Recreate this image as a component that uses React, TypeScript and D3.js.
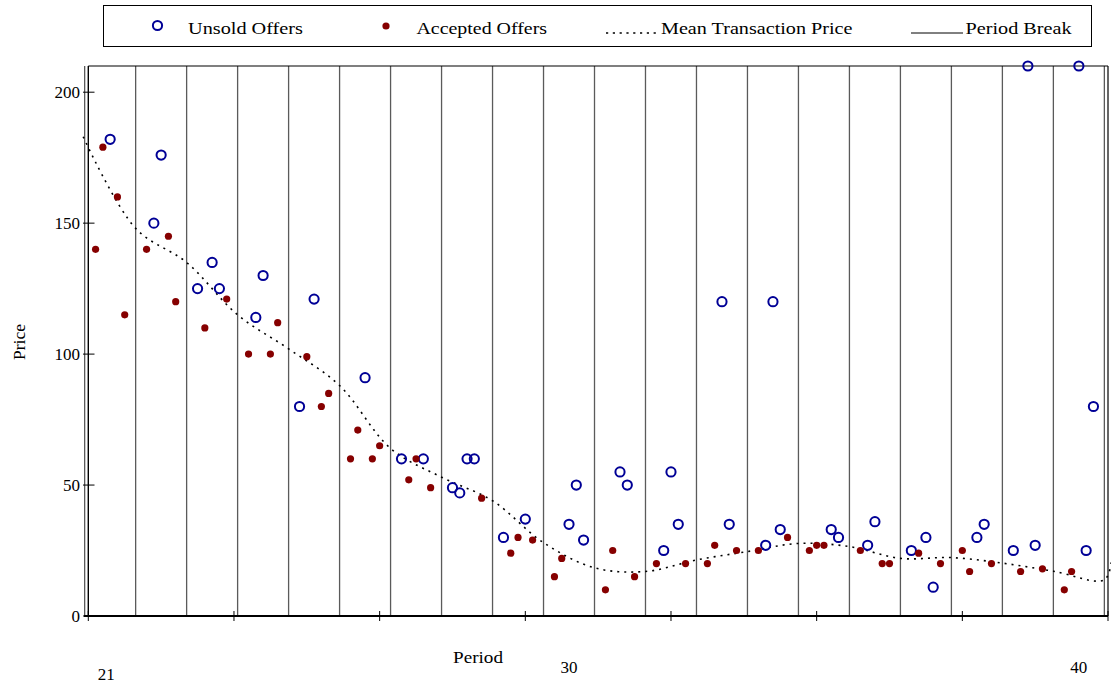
import React from 'react';
import * as d3 from 'd3';

// ---------- DATA ----------
// x = offer slot (7 slots per period, period 21 = slots 1..7, ..., period 40 = slots 134..140)
const unsoldSlot = [4, 10, 11, 16, 18, 19, 24, 25, 30, 32, 39, 44, 47, 51, 52, 53, 54, 58, 61, 67, 68, 69, 74, 75, 80, 81, 82, 88, 89, 94, 95, 96, 103, 104, 108, 109, 114, 116, 117, 123, 124, 128, 130, 131, 137, 138, 139];
const unsoldPrice = [182, 150, 176, 125, 135, 125, 114, 130, 80, 121, 91, 60, 60, 49, 47, 60, 60, 30, 37, 35, 50, 29, 55, 50, 25, 55, 35, 120, 35, 27, 120, 33, 33, 30, 27, 36, 25, 30, 11, 30, 35, 25, 210, 27, 210, 25, 80];

const acceptedSlot = [2, 3, 5, 6, 9, 12, 13, 17, 20, 23, 26, 27, 31, 33, 34, 37, 38, 40, 41, 45, 46, 48, 55, 59, 60, 62, 65, 66, 72, 73, 76, 79, 83, 86, 87, 90, 93, 97, 100, 101, 102, 107, 110, 111, 115, 118, 121, 122, 125, 129, 132, 135, 136];
const acceptedPrice = [140, 179, 160, 115, 140, 145, 120, 110, 121, 100, 100, 112, 99, 80, 85, 60, 71, 60, 65, 52, 60, 49, 45, 24, 30, 29, 15, 22, 10, 25, 15, 20, 20, 20, 27, 25, 25, 30, 25, 27, 27, 25, 20, 20, 24, 20, 25, 17, 20, 17, 18, 10, 17];

const meanSlot = [0.3, 7.5, 14.5, 21.5, 28.5, 35.5, 42.5, 49.5, 56.5, 63.5, 70.5, 77.5, 84.5, 91.5, 98.5, 105.5, 112.5, 119.5, 126.5, 133.5, 140.5, 141.5];
const meanPrice = [183, 148, 135, 115, 102, 88, 64, 53, 44, 28, 18.4, 17, 21.4, 24.6, 27.7, 26.5, 22, 22.3, 20.2, 17.1, 13.8, 21.5];

const firstPeriod = 21;
const lastPeriod = 40;
const slotsPerPeriod = 7;
const yTicks = [0, 50, 100, 150, 200];
const xTickLabels = ['21', '30', '40'];
const legendLabels = ['Unsold Offers', 'Accepted Offers', 'Mean Transaction Price', 'Period Break'];
const yTitle = 'Price';
const xTitle = 'Period';

// ---------- LAYOUT ----------
const W = 1111;
const H = 688;
const left = 88.3;
const right = 1108;
const top = 66;
const bottom = 616;
const FONT = '"Liberation Serif", "Times New Roman", serif';
const BLUE = '#000096';
const RED = '#860000';
const labelNudge: Record<string, [number, number]> = { '21': [-4, 7], '30': [0, 0], '40': [0, 0] };

export default function App() {
  const x = d3.scaleLinear().domain([1, 141]).range([left, right]);
  const y = d3.scaleLinear().domain([0, 210]).range([bottom, top]);

  const nPeriods = lastPeriod - firstPeriod + 1;
  const breaks = d3.range(0, nPeriods + 1).map((k) => k * slotsPerPeriod + 0.5);
  const xTicks = d3.range(1, 142, 20);
  const periodCenter = (p: number) => (p - firstPeriod) * slotsPerPeriod + 4;

  const meanData = meanSlot.map((s, i) => [s, meanPrice[i]] as [number, number]);
  const meanLine = d3
    .line<[number, number]>()
    .x((d) => x(d[0]))
    .y((d) => y(d[1]))
    .curve(d3.curveCatmullRom.alpha(0.5))(meanData) as string;

  const legendY = 26;
  const legendBase = 33.5;

  return (
    <svg
      width={W}
      height={H}
      style={{ position: 'absolute', left: 0, top: 0, display: 'block', background: '#fff' }}
      fontFamily={FONT}
    >
      <rect x={0} y={0} width={W} height={H} fill="#fff" />

      {/* legend */}
      <rect x={103.5} y={5.5} width={988} height={41} fill="#fff" stroke="#000" strokeWidth={1} />
      <circle cx={157.5} cy={legendY - 0.5} r={4.6} fill="none" stroke={BLUE} strokeWidth={2} />
      <text x={188} y={legendBase} fontSize={16} textLength={115} lengthAdjust="spacingAndGlyphs">{legendLabels[0]}</text>
      <circle cx={386} cy={legendY} r={3.6} fill={RED} />
      <text x={416.5} y={legendBase} fontSize={16} textLength={130.5} lengthAdjust="spacingAndGlyphs">{legendLabels[1]}</text>
      <line x1={606} x2={659} y1={33} y2={33} stroke="#000" strokeWidth={1.6} strokeDasharray="2.2,4.6" />
      <text x={661} y={legendBase} fontSize={16} textLength={191.5} lengthAdjust="spacingAndGlyphs">{legendLabels[2]}</text>
      <line x1={911} x2={963} y1={33} y2={33} stroke="#000" strokeWidth={1} />
      <text x={965.5} y={legendBase} fontSize={16} textLength={106} lengthAdjust="spacingAndGlyphs">{legendLabels[3]}</text>

      {/* period breaks */}
      {breaks.map((b, i) => (
        <line key={'b' + i} x1={x(b)} x2={x(b)} y1={top} y2={bottom} stroke="#5a5a5a" strokeWidth={1.3} />
      ))}

      {/* frame */}
      <line x1={left} x2={right} y1={top} y2={top} stroke="#000" strokeWidth={1.2} />
      <line x1={right} x2={right} y1={top} y2={bottom} stroke="#000" strokeWidth={1.2} />
      <line x1={left} x2={left} y1={top} y2={bottom} stroke="#000" strokeWidth={1.4} />
      <line x1={84} x2={right} y1={bottom} y2={bottom} stroke="#000" strokeWidth={1.8} />

      {/* y ticks */}
      {yTicks.map((t) => (
        <g key={'yt' + t}>
          <line x1={83} x2={94.5} y1={y(t)} y2={y(t)} stroke="#000" strokeWidth={1} />
          <text x={80} y={y(t)} dy="0.36em" textAnchor="end" fontSize={17}>
            {t}
          </text>
        </g>
      ))}

      {/* x ticks */}
      {xTicks.map((t) => (
        <line key={'xt' + t} x1={x(t)} x2={x(t)} y1={bottom - 5} y2={bottom + 5} stroke="#000" strokeWidth={1} />
      ))}
      {xTickLabels.map((lab) => {
        const [dx, dy] = labelNudge[lab] || [0, 0];
        return (
          <text key={'xl' + lab} x={x(periodCenter(+lab)) + dx} y={672.5 + dy} textAnchor="middle" fontSize={17}>
            {lab}
          </text>
        );
      })}

      {/* axis titles */}
      <text transform="translate(25,342) rotate(-90)" textAnchor="middle" fontSize={17.5}>
        {yTitle}
      </text>
      <text x={453} y={663} fontSize={17} textLength={50} lengthAdjust="spacingAndGlyphs">
        {xTitle}
      </text>

      {/* mean transaction price */}
      <path d={meanLine} fill="none" stroke="#000" strokeWidth={1.6} strokeDasharray="2,5" />

      {/* unsold offers */}
      {unsoldSlot.map((s, i) => (
        <circle key={'u' + i} cx={x(s)} cy={y(unsoldPrice[i])} r={4.6} fill="none" stroke={BLUE} strokeWidth={2} />
      ))}

      {/* accepted offers */}
      {acceptedSlot.map((s, i) => (
        <circle key={'a' + i} cx={x(s)} cy={y(acceptedPrice[i])} r={3.6} fill={RED} />
      ))}
    </svg>
  );
}
